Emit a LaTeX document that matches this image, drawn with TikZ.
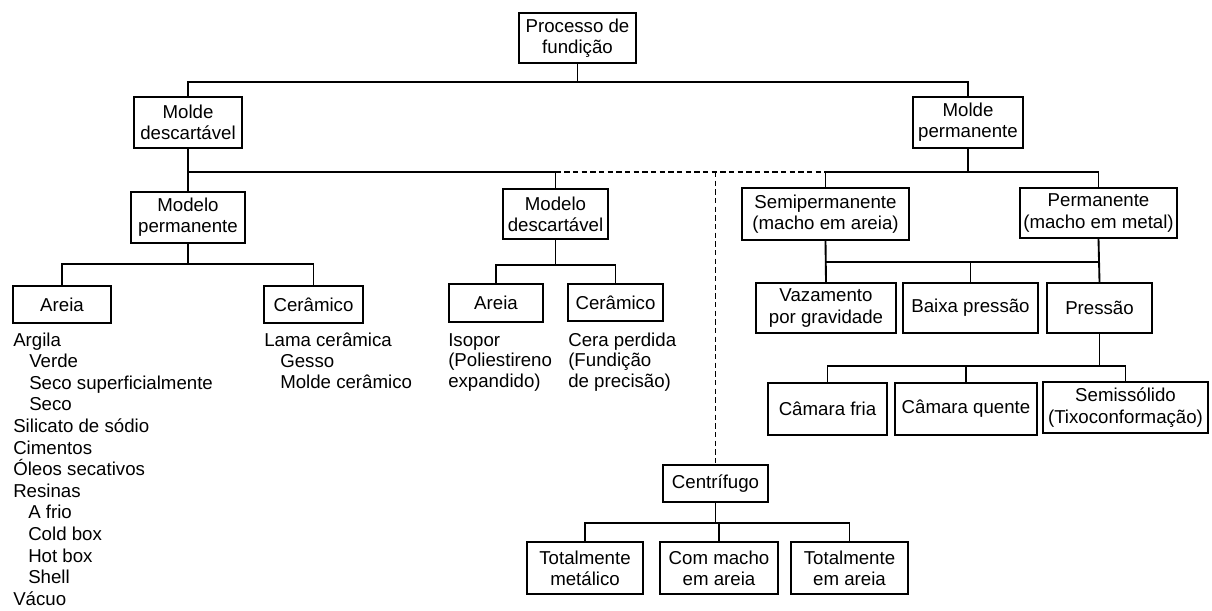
\documentclass[tikz,border=0pt]{standalone}
\usepackage{fontspec}
\setmainfont{Liberation Sans}
\begin{document}
\begin{tikzpicture}[x=0.75pt,y=-0.75pt,
    caixa/.style={draw,line width=1.4pt,align=center,inner sep=0pt,font=\fontsize{14}{16}\selectfont},
    ramo/.style={line width=1.4pt},
    tracejado/.style={line width=1.3pt,dash pattern=on 4pt off 2.5pt},
    item/.style={anchor=base west,inner sep=0pt,font=\fontsize{14}{16}\selectfont}]
  \useasboundingbox (0,0) rectangle (1212,610);
  % caixas
  \foreach \n/\x/\y/\w/\h/\t in {
      proc/577.5/38/117/50/Processo de\\fundição,
      mdesc/188/122.5/108/51/Molde\\descartável,
      mperm/968/122.5/110/51/Molde\\permanente,
      modperm/188/217.5/114/51/Modelo\\permanente,
      moddesc/555.5/214/105/50/Modelo\\descartável,
      semi/825.5/214/167/52/Semipermanente\\(macho em areia),
      perm/1098.5/213/157/50/Permanente\\(macho em metal),
      areia1/62/304.5/98/37/Areia,
      ceram1/313.5/304.5/99/37/Cerâmico,
      areia2/496/303/94/38/Areia,
      ceram2/615.5/302.5/95/37/Cerâmico,
      vaz/826/308/140/50/Vazamento\\por gravidade,
      baixa/970.5/308/135/50/Baixa pressão,
      pressao/1099.5/308/105/50/Pressão,
      cfria/827.5/409/119/52/Câmara fria,
      cquente/966/409/142/52/Câmara quente,
      semis/1125.5/407.5/165/51/Semissólido\\(Tixoconformação),
      centr/715.5/483.5/105/37/Centrífugo,
      totmet/585/568/116/52/Totalmente\\metálico,
      commacho/719/568/118/52/Com macho\\em areia,
      totareia/849.5/568/117/52/Totalmente\\em areia}{
    \node[caixa,minimum width=\w*0.75pt,minimum height=\h*0.75pt] (\n) at (\x,\y) {\t};
  }
  % nivel 1
  \coordinate (j1) at (577.5,82);
  \draw[ramo] (proc.south) -- (j1);
  \draw[ramo] (mdesc.north) |- (j1) -| (mperm.north);
  % nivel 2
  \coordinate (j2) at (188,172);
  \draw[ramo] (mdesc.south) -- (modperm.north);
  \draw[ramo] (j2) -| (moddesc.north);
  \draw[tracejado] (moddesc.north |- j2) -- (semi.north |- j2);
  \draw[tracejado] (centr.north |- j2) -- (centr.north);
  \draw[ramo] (mperm.south) -- (mperm.south |- j2);
  \draw[ramo] (semi.north) |- (perm.north |- j2) -- (perm.north);
  % modelos
  \draw[ramo] (modperm.south) -- ++(0,20) coordinate (j3);
  \draw[ramo] (areia1.north) |- (j3) -| (ceram1.north);
  \draw[ramo] (moddesc.south) -- ++(0,25) coordinate (j4);
  \draw[ramo] (areia2.north) |- (j4) -| (ceram2.north);
  % molde permanente
  \coordinate (j5) at (826,262);
  \draw[ramo] (semi.south) -- (vaz.north);
  \draw[ramo] (perm.south) -- (pressao.north);
  \draw[ramo] (j5) -- (perm.south |- j5);
  \draw[ramo] (baixa.north) -- (baixa.north |- j5);
  \draw[ramo] (pressao.south) -- ++(0,32) coordinate (j6);
  \draw[ramo] (cfria.north) |- (j6) -| (semis.north);
  \draw[ramo] (cquente.north) -- (cquente.north |- j6);
  \draw[ramo] (centr.south) -- ++(0,20) coordinate (j7);
  \draw[ramo] (totmet.north) |- (j7) -| (totareia.north);
  \draw[ramo] (commacho.north) -- (commacho.north |- j7);
  % listas
  \foreach \t/\d [count=\i] in {Argila/0, Verde/16, Seco superficialmente/16, Seco/16,
      Silicato de sódio/0, Cimentos/0, Óleos secativos/0, Resinas/0,
      A frio/15, Cold box/15, Hot box/15, Shell/15, Vácuo/0}
    \node[item] at ({13+\d},{346+21.6*(\i-1)}) {\t};
  \foreach \t/\d [count=\i] in {Lama cerâmica/0, Gesso/16, Molde cerâmico/16}
    \node[item] at ({264+\d},{346+21*(\i-1)}) {\t};
  \foreach \t [count=\i] in {Isopor, {(Poliestireno}, {expandido)}}
    \node[item] at (448,{346+20.7*(\i-1)}) {\t};
  \foreach \t [count=\i] in {Cera perdida, {(Fundição}, {de precisão)}}
    \node[item] at (568,{346+20.7*(\i-1)}) {\t};
\end{tikzpicture}
\end{document}
